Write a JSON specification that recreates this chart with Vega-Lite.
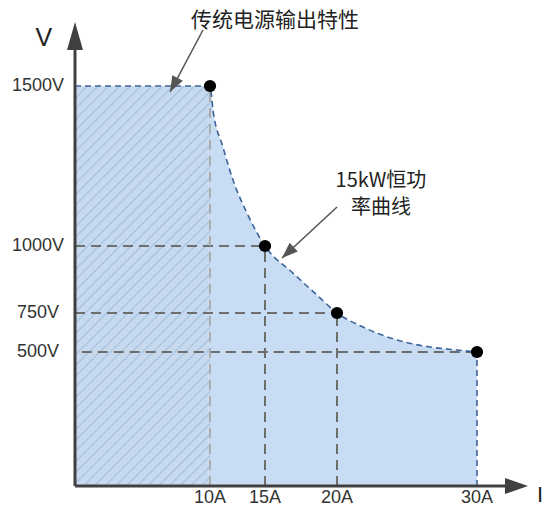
{
  "$schema": "https://vega.github.io/schema/vega-lite/v6.json",
  "width": 453,
  "height": 464,
  "autosize": "none",
  "padding": {"left": 75, "top": 22, "right": 14, "bottom": 23},
  "background": "white",
  "config": {"view": {"stroke": null}},
  "datasets": {
    "curve": [
      {"I": 0, "V": 1500}, {"I": 10, "V": 1500}, {"I": 10.27, "V": 1425}, {"I": 11.18, "V": 1309},
      {"I": 12.09, "V": 1206}, {"I": 13.36, "V": 1103}, {"I": 15, "V": 1000},
      {"I": 16.94, "V": 899}, {"I": 18.61, "V": 817}, {"I": 20, "V": 750}, {"I": 21.86, "V": 660},
      {"I": 24.29, "V": 577}, {"I": 26.64, "V": 532}, {"I": 28.57, "V": 513}, {"I": 30, "V": 500}
    ],
    "points": [{"I": 10, "V": 1500}, {"I": 15, "V": 1000}, {"I": 20, "V": 750}, {"I": 30, "V": 500}],
    "guides": [
      {"I": 0, "V": 1000, "I2": 15, "V2": 1000},
      {"I": 0, "V": 750, "I2": 20, "V2": 750},
      {"I": 0.5, "V": 500, "I2": 30, "V2": 500},
      {"I": 15, "V": 0, "I2": 15, "V2": 1000},
      {"I": 20, "V": 0, "I2": 20, "V2": 750}
    ],
    "xlabels": [{"I": 10, "V": -45, "t": "10A"}, {"I": 15, "V": -45, "t": "15A"}, {"I": 20, "V": -45, "t": "20A"}, {"I": 30, "V": -45, "t": "30A"}],
    "ylabels": [{"I": -2.74, "V": 1500, "t": "1500V"}, {"I": -2.74, "V": 1000, "t": "1000V"}, {"I": -2.74, "V": 750, "t": "750V"}, {"I": -2.74, "V": 500, "t": "500V"}]
  },
  "layer": [
    {
      "data": {"name": "curve"},
      "mark": {"type": "area", "color": "#c8dcf4", "interpolate": "monotone"},
      "encoding": {
        "x": {"field": "I", "type": "quantitative",
          "scale": {"domain": [0, 10, 15, 20, 30, 33.6], "range": [0, 135, 190, 262, 402, 453], "nice": false, "zero": false},
          "axis": null},
        "y": {"field": "V", "type": "quantitative",
          "scale": {"domain": [0, 500, 750, 1000, 1500, 1700], "range": [464, 330, 291, 224, 64, 0], "nice": false, "zero": false},
          "axis": null}
      }
    },
    {
      "data": {"values": [{"I": 0, "I2": 10, "V": 0, "V2": 1500}]},
      "mark": {"type": "rect", "strokeWidth": 0, "fill": {"gradient": "linear", "x1": 0, "y1": 0, "x2": 0.405, "y2": 1.2007, "stops": [
        {"offset": 0, "color": "#c6d9ee"}, {"offset": 0.0035, "color": "#a9c3de"}, {"offset": 0.007, "color": "#c6d9ee"},
        {"offset": 0.02, "color": "#c6d9ee"}, {"offset": 0.0235, "color": "#a9c3de"}, {"offset": 0.027, "color": "#c6d9ee"},
        {"offset": 0.04, "color": "#c6d9ee"}, {"offset": 0.0435, "color": "#a9c3de"}, {"offset": 0.047, "color": "#c6d9ee"},
        {"offset": 0.06, "color": "#c6d9ee"}, {"offset": 0.0635, "color": "#a9c3de"}, {"offset": 0.067, "color": "#c6d9ee"},
        {"offset": 0.08, "color": "#c6d9ee"}, {"offset": 0.0835, "color": "#a9c3de"}, {"offset": 0.087, "color": "#c6d9ee"},
        {"offset": 0.1, "color": "#c6d9ee"}, {"offset": 0.1035, "color": "#a9c3de"}, {"offset": 0.107, "color": "#c6d9ee"},
        {"offset": 0.12, "color": "#c6d9ee"}, {"offset": 0.1235, "color": "#a9c3de"}, {"offset": 0.127, "color": "#c6d9ee"},
        {"offset": 0.14, "color": "#c6d9ee"}, {"offset": 0.1435, "color": "#a9c3de"}, {"offset": 0.147, "color": "#c6d9ee"},
        {"offset": 0.16, "color": "#c6d9ee"}, {"offset": 0.1635, "color": "#a9c3de"}, {"offset": 0.167, "color": "#c6d9ee"},
        {"offset": 0.18, "color": "#c6d9ee"}, {"offset": 0.1835, "color": "#a9c3de"}, {"offset": 0.187, "color": "#c6d9ee"},
        {"offset": 0.2, "color": "#c6d9ee"}, {"offset": 0.2035, "color": "#a9c3de"}, {"offset": 0.207, "color": "#c6d9ee"},
        {"offset": 0.22, "color": "#c6d9ee"}, {"offset": 0.2235, "color": "#a9c3de"}, {"offset": 0.227, "color": "#c6d9ee"},
        {"offset": 0.24, "color": "#c6d9ee"}, {"offset": 0.2435, "color": "#a9c3de"}, {"offset": 0.247, "color": "#c6d9ee"},
        {"offset": 0.26, "color": "#c6d9ee"}, {"offset": 0.2635, "color": "#a9c3de"}, {"offset": 0.267, "color": "#c6d9ee"},
        {"offset": 0.28, "color": "#c6d9ee"}, {"offset": 0.2835, "color": "#a9c3de"}, {"offset": 0.287, "color": "#c6d9ee"},
        {"offset": 0.3, "color": "#c6d9ee"}, {"offset": 0.3035, "color": "#a9c3de"}, {"offset": 0.307, "color": "#c6d9ee"},
        {"offset": 0.32, "color": "#c6d9ee"}, {"offset": 0.3235, "color": "#a9c3de"}, {"offset": 0.327, "color": "#c6d9ee"},
        {"offset": 0.34, "color": "#c6d9ee"}, {"offset": 0.3435, "color": "#a9c3de"}, {"offset": 0.347, "color": "#c6d9ee"},
        {"offset": 0.36, "color": "#c6d9ee"}, {"offset": 0.3635, "color": "#a9c3de"}, {"offset": 0.367, "color": "#c6d9ee"},
        {"offset": 0.38, "color": "#c6d9ee"}, {"offset": 0.3835, "color": "#a9c3de"}, {"offset": 0.387, "color": "#c6d9ee"},
        {"offset": 0.4, "color": "#c6d9ee"}, {"offset": 0.4035, "color": "#a9c3de"}, {"offset": 0.407, "color": "#c6d9ee"},
        {"offset": 0.42, "color": "#c6d9ee"}, {"offset": 0.4235, "color": "#a9c3de"}, {"offset": 0.427, "color": "#c6d9ee"},
        {"offset": 0.44, "color": "#c6d9ee"}, {"offset": 0.4435, "color": "#a9c3de"}, {"offset": 0.447, "color": "#c6d9ee"},
        {"offset": 0.46, "color": "#c6d9ee"}, {"offset": 0.4635, "color": "#a9c3de"}, {"offset": 0.467, "color": "#c6d9ee"},
        {"offset": 0.48, "color": "#c6d9ee"}, {"offset": 0.4835, "color": "#a9c3de"}, {"offset": 0.487, "color": "#c6d9ee"},
        {"offset": 0.5, "color": "#c6d9ee"}, {"offset": 0.5035, "color": "#a9c3de"}, {"offset": 0.507, "color": "#c6d9ee"},
        {"offset": 0.52, "color": "#c6d9ee"}, {"offset": 0.5235, "color": "#a9c3de"}, {"offset": 0.527, "color": "#c6d9ee"},
        {"offset": 0.54, "color": "#c6d9ee"}, {"offset": 0.5435, "color": "#a9c3de"}, {"offset": 0.547, "color": "#c6d9ee"},
        {"offset": 0.56, "color": "#c6d9ee"}, {"offset": 0.5635, "color": "#a9c3de"}, {"offset": 0.567, "color": "#c6d9ee"},
        {"offset": 0.58, "color": "#c6d9ee"}, {"offset": 0.5835, "color": "#a9c3de"}, {"offset": 0.587, "color": "#c6d9ee"},
        {"offset": 0.6, "color": "#c6d9ee"}, {"offset": 0.6035, "color": "#a9c3de"}, {"offset": 0.607, "color": "#c6d9ee"},
        {"offset": 0.62, "color": "#c6d9ee"}, {"offset": 0.6235, "color": "#a9c3de"}, {"offset": 0.627, "color": "#c6d9ee"},
        {"offset": 0.64, "color": "#c6d9ee"}, {"offset": 0.6435, "color": "#a9c3de"}, {"offset": 0.647, "color": "#c6d9ee"},
        {"offset": 0.66, "color": "#c6d9ee"}, {"offset": 0.6635, "color": "#a9c3de"}, {"offset": 0.667, "color": "#c6d9ee"},
        {"offset": 0.68, "color": "#c6d9ee"}, {"offset": 0.6835, "color": "#a9c3de"}, {"offset": 0.687, "color": "#c6d9ee"},
        {"offset": 0.7, "color": "#c6d9ee"}, {"offset": 0.7035, "color": "#a9c3de"}, {"offset": 0.707, "color": "#c6d9ee"},
        {"offset": 0.72, "color": "#c6d9ee"}, {"offset": 0.7235, "color": "#a9c3de"}, {"offset": 0.727, "color": "#c6d9ee"},
        {"offset": 0.74, "color": "#c6d9ee"}, {"offset": 0.7435, "color": "#a9c3de"}, {"offset": 0.747, "color": "#c6d9ee"},
        {"offset": 0.76, "color": "#c6d9ee"}, {"offset": 0.7635, "color": "#a9c3de"}, {"offset": 0.767, "color": "#c6d9ee"},
        {"offset": 0.78, "color": "#c6d9ee"}, {"offset": 0.7835, "color": "#a9c3de"}, {"offset": 0.787, "color": "#c6d9ee"},
        {"offset": 0.8, "color": "#c6d9ee"}, {"offset": 0.8035, "color": "#a9c3de"}, {"offset": 0.807, "color": "#c6d9ee"},
        {"offset": 0.82, "color": "#c6d9ee"}, {"offset": 0.8235, "color": "#a9c3de"}, {"offset": 0.827, "color": "#c6d9ee"},
        {"offset": 0.84, "color": "#c6d9ee"}, {"offset": 0.8435, "color": "#a9c3de"}, {"offset": 0.847, "color": "#c6d9ee"},
        {"offset": 0.86, "color": "#c6d9ee"}, {"offset": 0.8635, "color": "#a9c3de"}, {"offset": 0.867, "color": "#c6d9ee"},
        {"offset": 0.88, "color": "#c6d9ee"}, {"offset": 0.8835, "color": "#a9c3de"}, {"offset": 0.887, "color": "#c6d9ee"},
        {"offset": 0.9, "color": "#c6d9ee"}, {"offset": 0.9035, "color": "#a9c3de"}, {"offset": 0.907, "color": "#c6d9ee"},
        {"offset": 0.92, "color": "#c6d9ee"}, {"offset": 0.9235, "color": "#a9c3de"}, {"offset": 0.927, "color": "#c6d9ee"},
        {"offset": 0.94, "color": "#c6d9ee"}, {"offset": 0.9435, "color": "#a9c3de"}, {"offset": 0.947, "color": "#c6d9ee"},
        {"offset": 0.96, "color": "#c6d9ee"}, {"offset": 0.9635, "color": "#a9c3de"}, {"offset": 0.967, "color": "#c6d9ee"},
        {"offset": 0.98, "color": "#c6d9ee"}, {"offset": 0.9835, "color": "#a9c3de"}, {"offset": 0.987, "color": "#c6d9ee"},
        {"offset": 1, "color": "#c6d9ee"}
      ]}},
      "encoding": {
        "x": {"field": "I", "type": "quantitative", "axis": null},
        "x2": {"field": "I2"},
        "y": {"field": "V", "type": "quantitative", "axis": null},
        "y2": {"field": "V2"}
      }
    },
    {
      "data": {"name": "guides"},
      "mark": {"type": "rule", "color": "#6e6e6e", "strokeWidth": 2, "strokeDash": [10, 6]},
      "encoding": {
        "x": {"field": "I", "type": "quantitative", "axis": null},
        "x2": {"field": "I2"},
        "y": {"field": "V", "type": "quantitative", "axis": null},
        "y2": {"field": "V2"}
      }
    },
    {
      "data": {"values": [{"I": 10, "V": 0, "I2": 10, "V2": 1500}]},
      "mark": {"type": "rule", "color": "#a8a8a8", "strokeWidth": 1.8, "strokeDash": [10, 6]},
      "encoding": {
        "x": {"field": "I", "type": "quantitative", "axis": null},
        "x2": {"field": "I2"},
        "y": {"field": "V", "type": "quantitative", "axis": null},
        "y2": {"field": "V2"}
      }
    },
    {
      "data": {"name": "curve"},
      "mark": {"type": "line", "color": "#3d6499", "strokeWidth": 1.6, "strokeDash": [6, 4], "interpolate": "monotone"},
      "encoding": {
        "x": {"field": "I", "type": "quantitative", "axis": null},
        "y": {"field": "V", "type": "quantitative", "axis": null}
      }
    },
    {
      "data": {"values": [{"I": 30, "V": 0, "I2": 30, "V2": 500}]},
      "mark": {"type": "rule", "color": "#3d6499", "strokeWidth": 1.6, "strokeDash": [6, 4]},
      "encoding": {
        "x": {"field": "I", "type": "quantitative", "axis": null},
        "x2": {"field": "I2"},
        "y": {"field": "V", "type": "quantitative", "axis": null},
        "y2": {"field": "V2"}
      }
    },
    {
      "data": {"values": [{"I": 0, "V": 0, "I2": 0, "V2": 1620}, {"I": 0, "V": 0, "I2": 32.2, "V2": 0}]},
      "mark": {"type": "rule", "color": "#404040", "strokeWidth": 3},
      "encoding": {
        "x": {"field": "I", "type": "quantitative", "axis": null},
        "x2": {"field": "I2"},
        "y": {"field": "V", "type": "quantitative", "axis": null},
        "y2": {"field": "V2"}
      }
    },
    {
      "data": {"values": [{"I": 0, "V": 1700}]},
      "mark": {"type": "point", "shape": "M0,0L0.57,2L-0.57,2Z", "size": 784, "filled": true, "color": "#404040", "opacity": 1, "strokeWidth": 0},
      "encoding": {
        "x": {"field": "I", "type": "quantitative", "axis": null},
        "y": {"field": "V", "type": "quantitative", "axis": null}
      }
    },
    {
      "data": {"values": [{"I": 33.6, "V": 0}]},
      "mark": {"type": "point", "shape": "M0,0L-2,-0.7L-2,0.7Z", "size": 529, "filled": true, "color": "#404040", "opacity": 1, "strokeWidth": 0},
      "encoding": {
        "x": {"field": "I", "type": "quantitative", "axis": null},
        "y": {"field": "V", "type": "quantitative", "axis": null}
      }
    },
    {
      "data": {"values": [{"I": 9.48, "V": 1675, "I2": 7.04, "V2": 1481}, {"I": 20, "V": 1122, "I2": 16.18, "V2": 955}]},
      "mark": {"type": "rule", "color": "#555555", "strokeWidth": 1.5},
      "encoding": {
        "x": {"field": "I", "type": "quantitative", "axis": null},
        "x2": {"field": "I2"},
        "y": {"field": "V", "type": "quantitative", "axis": null},
        "y2": {"field": "V2"}
      }
    },
    {
      "data": {"values": [{"I": 7.04, "V": 1481}]},
      "mark": {"type": "point", "shape": "M0,0L0.75,2L-0.75,2Z", "size": 256, "angle": 208, "filled": true, "color": "#555555", "opacity": 1, "strokeWidth": 0},
      "encoding": {
        "x": {"field": "I", "type": "quantitative", "axis": null},
        "y": {"field": "V", "type": "quantitative", "axis": null}
      }
    },
    {
      "data": {"values": [{"I": 16.18, "V": 955}]},
      "mark": {"type": "point", "shape": "M0,0L0.75,2L-0.75,2Z", "size": 256, "angle": 227, "filled": true, "color": "#555555", "opacity": 1, "strokeWidth": 0},
      "encoding": {
        "x": {"field": "I", "type": "quantitative", "axis": null},
        "y": {"field": "V", "type": "quantitative", "axis": null}
      }
    },
    {
      "data": {"name": "points"},
      "mark": {"type": "circle", "size": 150, "color": "#000000", "opacity": 1},
      "encoding": {
        "x": {"field": "I", "type": "quantitative", "axis": null},
        "y": {"field": "V", "type": "quantitative", "axis": null}
      }
    },
    {
      "data": {"name": "xlabels"},
      "mark": {"type": "text", "font": "Liberation Sans", "fontSize": 18, "color": "#333333", "align": "center", "baseline": "middle"},
      "encoding": {
        "x": {"field": "I", "type": "quantitative", "axis": null},
        "y": {"field": "V", "type": "quantitative", "axis": null},
        "text": {"field": "t"}
      }
    },
    {
      "data": {"name": "ylabels"},
      "mark": {"type": "text", "font": "Liberation Sans", "fontSize": 18, "color": "#333333", "align": "center", "baseline": "middle"},
      "encoding": {
        "x": {"field": "I", "type": "quantitative", "axis": null},
        "y": {"field": "V", "type": "quantitative", "axis": null},
        "text": {"field": "t"}
      }
    },
    {
      "data": {"values": [{"I": -2.3, "V": 1650, "t": "V"}]},
      "mark": {"type": "text", "font": "Liberation Sans", "fontSize": 25, "color": "#222222", "align": "center", "baseline": "middle"},
      "encoding": {
        "x": {"field": "I", "type": "quantitative", "axis": null},
        "y": {"field": "V", "type": "quantitative", "axis": null},
        "text": {"field": "t"}
      }
    },
    {
      "data": {"values": [{"I": 34.46, "V": -34, "t": "I"}]},
      "mark": {"type": "text", "font": "Liberation Sans", "fontSize": 22, "color": "#222222", "align": "center", "baseline": "middle"},
      "encoding": {
        "x": {"field": "I", "type": "quantitative", "axis": null},
        "y": {"field": "V", "type": "quantitative", "axis": null},
        "text": {"field": "t"}
      }
    },
    {
      "data": {"values": [{"I": 15.69, "V": 1703, "t": "传统电源输出特性"}]},
      "mark": {"type": "text", "font": "Noto Sans CJK SC", "fontSize": 21, "color": "#222222", "align": "center", "baseline": "middle"},
      "encoding": {
        "x": {"field": "I", "type": "quantitative", "axis": null},
        "y": {"field": "V", "type": "quantitative", "axis": null},
        "text": {"field": "t"}
      }
    },
    {
      "data": {"values": [{"I": 23.14, "V": 1203, "t": "15kW恒功"}, {"I": 23.14, "V": 1119, "t": "率曲线"}]},
      "mark": {"type": "text", "font": "Noto Sans CJK SC", "fontSize": 20, "color": "#222222", "align": "center", "baseline": "middle"},
      "encoding": {
        "x": {"field": "I", "type": "quantitative", "axis": null},
        "y": {"field": "V", "type": "quantitative", "axis": null},
        "text": {"field": "t"}
      }
    }
  ]
}
